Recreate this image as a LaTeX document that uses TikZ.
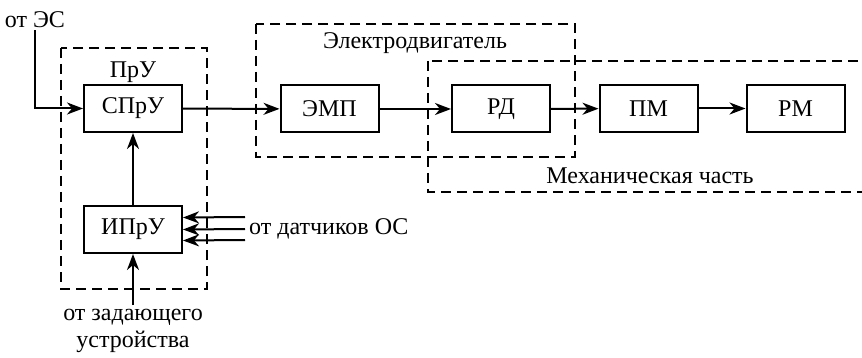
\documentclass[tikz,border=0pt]{standalone}
\usepackage{fontspec}
\setmainfont{Liberation Serif}
\usetikzlibrary{arrows.meta}

\begin{document}
\begin{tikzpicture}[x=1pt,y=-1pt,font=\fontsize{24pt}{27pt}\selectfont,
    >={Stealth[length=16pt,width=12pt,inset=5pt]}]
    \tikzstyle{blok}=[draw,line width=2pt,minimum width=98pt,minimum height=47pt,inner sep=0pt]
    \tikzstyle{ramka}=[line width=2.6pt,dash pattern=on 10pt off 6pt]
    \tikzstyle{svyaz}=[->,line width=2pt]
    \useasboundingbox (0,0) rectangle (862,358);
    \draw[ramka] (61,48) rectangle (207,289);
    \draw[ramka] (256,24) rectangle (575,157);
    \draw[ramka] (428,61) rectangle (880,192);
    \node (pru) at (133,72) {ПрУ};
    \node (motor) at (415,43) {Электродвигатель};
    \node (mech) at (650,176) {Механическая часть};
    \node[blok] (spru) at (133,108.5) {СПрУ};
    \node[blok] (ipru) at (133,229.5) {ИПрУ};
    \node[blok] (emp) at (329.5,109) {ЭМП};
    \node[blok] (rd) at (501,109) {РД};
    \node[blok] (pm) at (648.5,108.5) {ПМ};
    \node[blok] (rm) at (795.5,108.5) {РМ};
    \node[inner sep=2pt] (oes) at (35,20) {от ЭС};
    \node[anchor=west,inner sep=4pt] (dat) at (245,229) {от датчиков ОС};
    \node[align=center,inner sep=4pt] (zad) at (133,331) {от задающего\\устройства};
    \draw[svyaz] (oes) |- (spru);
    \draw[svyaz] (spru) -- (emp);
    \draw[svyaz] (emp) -- (rd);
    \draw[svyaz] (rd) -- (pm);
    \draw[svyaz] (pm) -- (rm);
    \draw[svyaz] (ipru) -- (spru);
    \draw[svyaz] (zad) -- (ipru);
    \draw[svyaz] ([yshift=-11pt]dat.west) -- ([yshift=-11pt]ipru.east);
    \draw[svyaz] (dat.west) -- (ipru.east);
    \draw[svyaz] ([yshift=12pt]dat.west) -- ([yshift=12pt]ipru.east);
\end{tikzpicture}
\end{document}
